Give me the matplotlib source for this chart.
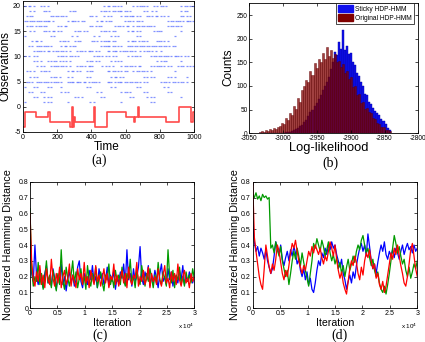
import numpy as np
import matplotlib
matplotlib.use('Agg')
import matplotlib.pyplot as plt
from matplotlib.patches import Patch

plt.rcParams['font.family'] = ['Liberation Sans', 'DejaVu Sans']
plt.rcParams['axes.unicode_minus'] = False

# ---- (a) state sequence (change times / values) and observations ----
state_times = [0, 15, 78, 145, 160, 275, 288, 295, 300, 305, 415, 420, 492,
               600, 648, 652, 672, 678, 835, 912, 980, 993, 1000]
state_vals = [-4, -1, -2, -1, -3, -4, 0, -4, -2, -3, 0, -4, -1,
              -2, -3, -2, 0, -2, -3, 0, -3, -1, -1]

# one char per 10 time steps, '#' = observation in that row
obs_rows = {
    20: ".#.##.#... #.#.#..... .......... .......... .......#.# #.##.#.#.. ....#.#.## #.#...#.#. ##.#...... ..#.##.#.#",
    19: "....#.#... ..##.#.... .......#.# #......... .....#.##. #.##.###.# #.#....... #.#..#.#.. .......... ..#.##....",
    18: "..#.##.... ......##.# #.##.#.... .........# #.#....#.# .#.....#.# #.###.#.#. ..##.#.##. #.#.#..... ..##.#.#..",
    17: ".##.###.## #.####.#.. ......#.## #.#.##.... ...#.##.#. ##.......# .##.#.##.# .......... ....#.##.# ##.#.###.#",
    16: "..#.##.#.# #.##...... #.#.##.... .........# #.#.##.... ...#.##.#. ##..#.##.# #.###.#... ....#.##.# #.#.......",
    15: "....#.#... ..##.#.##. #.#....... #.##.#.#.. .....#.##. #.##...... .#.##.#.#. ......#.## #......... ..#.......",
    14: ".#........ ......#.#. ........#. .#........ .#..#..... .#.#.#.... ......#.#. .......... ........#. ..........",
    13: ".....#.##. #......... .#.##.#... #.##...... ##.#.#.### #.##...... .#.###.#.# #.#.....## #.#.#..... ..........",
    12: "...#.#..## #.###.#... ..#.##.#.# #......... .....#.### #.##.#.#.. .###.##.## #.##.###.# #.##.#.##. ..........",
    11: "......#.## #.#.##.#.# #.##.#.#.. .#.##.#.## #.#.#....# #.###.#.## #.##.#..#. #.##.#.#.. #......... ..........",
    10: ".#.#..#.#. .......... #.##.#.##. #.#....... .#.##.#.#. #.#.#..... .#.#.##.#. ....#.##.# #.###.#.## #.#.#.#...",
    9:  "......#.#. #...#.#.## .#.#.#.#.. .......#.# #.#.#..... .#.#.#.#.. .......... ........#. #.##...... ..#.......",
    8:  "........#. #.#...#.## #.##.#.#.. .#.##.#.## #.....#.#. #.#....#.# #.##.#.##. ....#.#.## #.#.#.#... #.##.#.#.#",
    7:  "..#.#.#... #.##.#.... ......#.## .#.#...#.# #........# #.##.#.#.# #...#.##.# #.#.#..... ........#. ..........",
    6:  "....#.#.#. ......#.## .#....#.#. .......#.# .......... .#.##.#.#. .......... #.#.#.#... ....#.#.#. .....#....",
    5:  "..##.#..## #.###.#.## #.#...#### .###.##.#. ###.#....# ##.#.###.# #.##.##.#. #.#....... #.##.#.##. #.##.#....",
    4:  ".#....#.#. ....#.#... ..#....... .......#.# .......... .#.#...... ......#.#. .......... ..#.#..... ..........",
    3:  "...#.#.... #.#....... ..#.#.#... .......... ...#.#.... .......#.# #.#....... #.#....... ....#.#... ..........",
    2:  "......#.#. ..#.#.#... .......... #.#.#..... .....#.#.. .......... ..#.#..... ..#.#.#... .......... ..#.......",
    1:  ".#........ ..#.#.#... ......#... .........# .#........ .......#.. .......... ....#.#... .......... ..........",
}

# ---- (b) log-likelihood histograms, bins of width 3 from -3036 ----
hist_start = -3036
hist_width = 3
sticky_counts = [0, 0, 0, 0, 0, 0, 0, 0, 0, 0,
                 0, 1, 1, 2, 2, 3, 5, 6, 9, 11,
                 15, 18, 24, 28, 36, 44, 50, 58, 65, 72,
                 80, 92, 100, 108, 118, 135, 150, 172, 165, 192,
                 178, 218, 176, 185, 168, 170, 150, 145, 128, 122,
                 108, 100, 84, 80, 66, 62, 54, 48, 42, 38,
                 30, 25, 19, 12, 6]
original_counts = [2, 4, 3, 6, 5, 9, 7, 12, 10, 14,
                   15, 22, 20, 32, 29, 42, 38, 58, 52, 74,
                   66, 92, 100, 112, 108, 132, 124, 148, 138, 156,
                   150, 170, 158, 182, 164, 176, 160, 168, 150, 152,
                   140, 146, 128, 132, 114, 118, 98, 100, 80, 82,
                   64, 66, 52, 54, 44, 42, 32, 30, 22, 20,
                   14, 13, 8, 7, 4]

# ---- (c), (d) normalized Hamming distance, every 300 iterations ----
iter_step = 300
c_blue = [0.50, 0.22, 0.17, 0.40, 0.20, 0.15, 0.24, 0.18, 0.13, 0.22,
          0.27, 0.16, 0.20, 0.14, 0.25, 0.19, 0.12, 0.21, 0.17, 0.28,
          0.15, 0.20, 0.11, 0.19, 0.23, 0.16, 0.21, 0.14, 0.18, 0.26,
          0.30, 0.17, 0.13, 0.22, 0.19, 0.15, 0.24, 0.18, 0.27, 0.16,
          0.20, 0.13, 0.25, 0.19, 0.22, 0.15, 0.18, 0.26, 0.14, 0.21,
          0.17, 0.24, 0.12, 0.20, 0.16, 0.23, 0.19, 0.28, 0.15, 0.37,
          0.18, 0.22, 0.14, 0.25, 0.17, 0.20, 0.26, 0.39, 0.19, 0.15,
          0.23, 0.18, 0.27, 0.14, 0.21, 0.16, 0.24, 0.19, 0.13, 0.22,
          0.28, 0.17, 0.20, 0.15, 0.25, 0.18, 0.23, 0.14, 0.21, 0.19,
          0.16, 0.24, 0.18, 0.27, 0.15, 0.20, 0.17, 0.23, 0.19, 0.16,
          0.21]
c_green = [0.63, 0.25, 0.14, 0.20, 0.17, 0.29, 0.15, 0.22, 0.12, 0.19,
           0.30, 0.16, 0.21, 0.13, 0.24, 0.18, 0.11, 0.22, 0.15, 0.37,
           0.17, 0.12, 0.26, 0.19, 0.14, 0.21, 0.30, 0.16, 0.23, 0.13,
           0.19, 0.25, 0.15, 0.20, 0.12, 0.27, 0.18, 0.14, 0.22, 0.17,
           0.26, 0.13, 0.19, 0.23, 0.16, 0.11, 0.21, 0.18, 0.28, 0.15,
           0.20, 0.13, 0.24, 0.17, 0.21, 0.15, 0.26, 0.18, 0.14, 0.22,
           0.19, 0.31, 0.16, 0.20, 0.13, 0.24, 0.18, 0.15, 0.27, 0.20,
           0.14, 0.22, 0.17, 0.25, 0.19, 0.13, 0.21, 0.16, 0.29, 0.18,
           0.15, 0.23, 0.19, 0.14, 0.37, 0.20, 0.16, 0.24, 0.13, 0.21,
           0.18, 0.26, 0.15, 0.20, 0.14, 0.23, 0.17, 0.21, 0.16, 0.25,
           0.19]
c_red = [0.60, 0.30, 0.18, 0.14, 0.23, 0.17, 0.27, 0.15, 0.21, 0.13,
         0.25, 0.18, 0.15, 0.31, 0.19, 0.14, 0.22, 0.16, 0.26, 0.13,
         0.20, 0.24, 0.15, 0.19, 0.28, 0.14, 0.21, 0.17, 0.13, 0.25,
         0.18, 0.22, 0.15, 0.29, 0.16, 0.20, 0.13, 0.24, 0.19, 0.15,
         0.27, 0.17, 0.21, 0.14, 0.19, 0.25, 0.16, 0.22, 0.13, 0.20,
         0.18, 0.28, 0.15, 0.21, 0.14, 0.19, 0.24, 0.16, 0.22, 0.13,
         0.26, 0.18, 0.15, 0.21, 0.19, 0.29, 0.14, 0.20, 0.17, 0.24,
         0.15, 0.19, 0.26, 0.13, 0.22, 0.17, 0.20, 0.15, 0.25, 0.18,
         0.14, 0.21, 0.27, 0.16, 0.19, 0.13, 0.23, 0.17, 0.22, 0.15,
         0.28, 0.18, 0.14, 0.20, 0.24, 0.16, 0.19, 0.13, 0.22, 0.17,
         0.20]

d_blue = [0.55, 0.42, 0.36, 0.39, 0.33, 0.38, 0.35, 0.31, 0.37, 0.30,
          0.26, 0.22, 0.25, 0.33, 0.42, 0.38, 0.34, 0.40, 0.31, 0.27,
          0.32, 0.36, 0.30, 0.37, 0.33, 0.39, 0.35, 0.28, 0.31, 0.24,
          0.20, 0.25, 0.18, 0.23, 0.15, 0.19, 0.12, 0.10, 0.16, 0.24,
          0.30, 0.27, 0.35, 0.32, 0.38, 0.34, 0.40, 0.37, 0.42, 0.38,
          0.40, 0.34, 0.30, 0.26, 0.31, 0.22, 0.18, 0.12, 0.17, 0.21,
          0.16, 0.23, 0.19, 0.27, 0.33, 0.38, 0.41, 0.36, 0.40, 0.33,
          0.47, 0.39, 0.30, 0.25, 0.28, 0.22, 0.29, 0.35, 0.40, 0.36,
          0.42, 0.34, 0.31, 0.36, 0.33, 0.37, 0.32, 0.38, 0.35, 0.31,
          0.36, 0.40, 0.34, 0.38, 0.41, 0.37, 0.39, 0.35, 0.40, 0.36,
          0.38]
d_green = [0.72, 0.70, 0.73, 0.69, 0.71, 0.68, 0.72, 0.70, 0.71, 0.69,
           0.70, 0.38, 0.40, 0.35, 0.42, 0.37, 0.33, 0.39, 0.30, 0.25,
           0.20, 0.24, 0.15, 0.22, 0.30, 0.36, 0.31, 0.38, 0.33, 0.27,
           0.35, 0.29, 0.24, 0.19, 0.14, 0.22, 0.30, 0.41, 0.38, 0.44,
           0.40, 0.36, 0.43, 0.39, 0.33, 0.37, 0.42, 0.35, 0.30, 0.34,
           0.28, 0.32, 0.25, 0.29, 0.22, 0.27, 0.20, 0.26, 0.31, 0.24,
           0.28, 0.33, 0.29, 0.36, 0.40, 0.37, 0.43, 0.46, 0.40, 0.35,
           0.38, 0.32, 0.27, 0.31, 0.24, 0.20, 0.23, 0.16, 0.12, 0.10,
           0.14, 0.09, 0.15, 0.22, 0.30, 0.38, 0.46, 0.41, 0.35, 0.39,
           0.33, 0.28, 0.31, 0.24, 0.20, 0.26, 0.19, 0.23, 0.28, 0.25,
           0.30]
d_red = [0.80, 0.45, 0.36, 0.28, 0.20, 0.15, 0.12, 0.25, 0.40, 0.33,
         0.26, 0.22, 0.28, 0.24, 0.31, 0.40, 0.36, 0.29, 0.22, 0.18,
         0.24, 0.20, 0.27, 0.35, 0.41, 0.38, 0.43, 0.36, 0.30, 0.26,
         0.22, 0.27, 0.24, 0.30, 0.36, 0.33, 0.39, 0.35, 0.40, 0.37,
         0.34, 0.38, 0.32, 0.28, 0.33, 0.30, 0.36, 0.42, 0.38, 0.33,
         0.40, 0.31, 0.24, 0.19, 0.23, 0.16, 0.12, 0.09, 0.17, 0.25,
         0.30, 0.27, 0.33, 0.29, 0.22, 0.18, 0.26, 0.21, 0.30, 0.35,
         0.32, 0.37, 0.30, 0.25, 0.28, 0.19, 0.22, 0.15, 0.12, 0.17,
         0.10, 0.14, 0.21, 0.28, 0.35, 0.31, 0.38, 0.34, 0.40, 0.33,
         0.27, 0.22, 0.16, 0.14, 0.20, 0.28, 0.37, 0.41, 0.33, 0.25,
         0.20]

W, H = 425.0, 342.0
fig = plt.figure(figsize=(W / 100, H / 100), dpi=100)


def add_axes(l, t, r, b):
    return fig.add_axes([l / W, 1 - b / H, (r - l) / W, (b - t) / H])


def put_text(x, y, s, **kw):
    fig.text(x / W, 1 - y / H, s, ha='center', va='center', **kw)


def style(ax, size=5):
    ax.tick_params(direction='in', top=True, right=True, length=2.0,
                   width=0.5, labelsize=size, pad=1.3)
    for sp in ax.spines.values():
        sp.set_linewidth(0.6)


# (a)
ax_a = add_axes(22.7, 0.9, 194.3, 132)
t_pts, y_pts = [], []
for row, mask in obs_rows.items():
    for i, ch in enumerate(mask.replace(' ', '')):
        if ch == '#':
            t_pts.append(10 * i + 5)
            y_pts.append(row)
ax_a.plot(t_pts, y_pts, ls='none', marker='_', ms=2.1, mew=0.9,
          color='#5a6fff', alpha=0.75)
ax_a.step(state_times, state_vals, where='post', color='#ff4a4a', lw=1.2)
ax_a.set_xlim(0, 1000)
ax_a.set_ylim(-5, 21)
ax_a.set_xticks(range(0, 1001, 200))
ax_a.set_yticks(range(-5, 21, 5))
style(ax_a)
put_text(6, 66, 'Observations', rotation=90, fontsize=8.6)
put_text(107, 147, 'Time', fontsize=8.5)
put_text(99, 160.7, '(a)', fontsize=10, family='Liberation Serif')

# (b)
ax_b = add_axes(249.3, 2.7, 418.3, 133.3)
centers = hist_start + hist_width / 2 + hist_width * np.arange(len(sticky_counts))
ax_b.bar(centers, sticky_counts, width=hist_width, color='#1010ee',
         edgecolor='#0000a0', lw=0.3)
ax_b.bar(centers, original_counts, width=hist_width, color='#800000',
         alpha=0.75, edgecolor='#600000', lw=0.4)
ax_b.set_xlim(-3050, -2800)
ax_b.set_ylim(0, 276)
ax_b.set_xticks(range(-3050, -2799, 50))
ax_b.set_yticks(range(0, 251, 50))
style(ax_b, size=4.7)
leg = ax_b.legend(handles=[Patch(color='#1010ee', label='Sticky HDP-HMM'),
                           Patch(color='#800000', label='Original HDP-HMM')],
                  loc='upper right', bbox_to_anchor=(414 / W, 1 - 3.3 / H),
                  bbox_transform=fig.transFigure, borderaxespad=0,
                  fontsize=4.8, fancybox=False, framealpha=1,
                  handlelength=2.2, handleheight=1.2, borderpad=0.3,
                  labelspacing=0.2, handletextpad=0.4)
leg.get_frame().set_edgecolor('black')
leg.get_frame().set_linewidth(0.5)
put_text(228, 67, 'Counts', rotation=90, fontsize=8.5)
put_text(329, 147.5, 'Log-likelihood', fontsize=9.3)
put_text(330, 163, '(b)', fontsize=10, family='Liberation Serif')

# (c) and (d)
its = iter_step * np.arange(len(c_blue))
panels = [((30, 194.3), (c_blue, c_green, c_red), '(c)', 8, 100),
          ((252.7, 417.3), (d_blue, d_green, d_red), '(d)', 235.5, 340)]
for (l, r), series, lab, ylab_x, lab_x in panels:
    ax = add_axes(l, 181.7, r, 308.3)
    for vals, col in zip(series, ['#0000ff', '#009a00', '#ff0000']):
        ax.plot(its, vals, color=col, lw=0.9)
    ax.set_xlim(0, 30000)
    ax.set_ylim(0, 0.8)
    ax.set_xticks(range(0, 30001, 5000))
    ax.set_xticklabels(['0', '0.5', '1', '1.5', '2', '2.5', '3'])
    ax.set_yticks(np.arange(0, 0.81, 0.1))
    ax.set_yticklabels(['0'] + ['%.1f' % v for v in np.arange(0.1, 0.81, 0.1)])
    style(ax)
    put_text(ylab_x, 245, 'Normalized Hamming Distance', rotation=90, fontsize=7.8)
    put_text((l + r) / 2, 322.7, 'Iteration', fontsize=7.6)
    put_text(r - 8, 326, r'x 10$^4$', fontsize=4.5)
    put_text(lab_x, 335, lab, fontsize=10, family='Liberation Serif')

fig.savefig('out.png', dpi=100)
